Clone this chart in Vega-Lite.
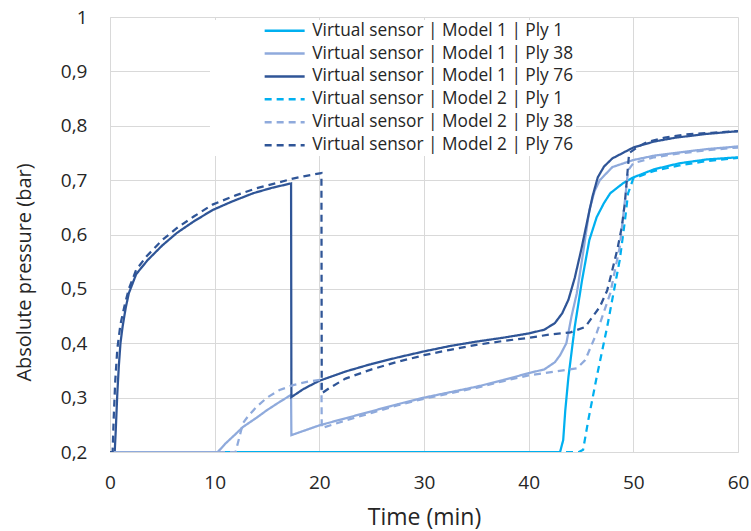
{
  "$schema": "https://vega.github.io/schema/vega-lite/v6.json",
  "width": 628,
  "height": 435,
  "autosize": {"type": "none"},
  "padding": {"left": 110, "top": 17, "right": 13, "bottom": 79},
  "background": "white",
  "config": {
    "font": "Open Sans",
    "view": {"stroke": null},
    "axis": {
      "domainColor": "#d9d9d9",
      "gridColor": "#d9d9d9",
      "gridWidth": 1,
      "ticks": false,
      "tickSize": 0,
      "labelColor": "#262626",
      "titleColor": "#262626",
      "labelFontSize": 19,
      "titleFontWeight": "normal",
      "labelFlush": false,
      "labelOverlap": false
    },
    "legend": {
      "title": null,
      "orient": "none",
      "legendX": 100,
      "legendY": 3,
      "padding": 2,
      "fillColor": "white",
      "symbolType": "M-4,0H4",
      "symbolSize": 100,
      "symbolStrokeWidth": 2.5,
      "symbolOffset": 64,
      "labelOffset": 19,
      "labelFontSize": 17.3,
      "labelColor": "#262626",
      "labelLimit": 400,
      "rowPadding": 4.9
    }
  },
  "data": {
    "values": [
      {"series": "Virtual sensor | Model 1 | Ply 1", "t": 0, "p": 0.2},
      {"series": "Virtual sensor | Model 1 | Ply 1", "t": 43.0, "p": 0.2},
      {"series": "Virtual sensor | Model 1 | Ply 1", "t": 43.3, "p": 0.222},
      {"series": "Virtual sensor | Model 1 | Ply 1", "t": 43.5, "p": 0.277},
      {"series": "Virtual sensor | Model 1 | Ply 1", "t": 43.8, "p": 0.338},
      {"series": "Virtual sensor | Model 1 | Ply 1", "t": 44.4, "p": 0.43},
      {"series": "Virtual sensor | Model 1 | Ply 1", "t": 45.1, "p": 0.516},
      {"series": "Virtual sensor | Model 1 | Ply 1", "t": 45.8, "p": 0.59},
      {"series": "Virtual sensor | Model 1 | Ply 1", "t": 46.5, "p": 0.632},
      {"series": "Virtual sensor | Model 1 | Ply 1", "t": 47.2, "p": 0.658},
      {"series": "Virtual sensor | Model 1 | Ply 1", "t": 47.8, "p": 0.676},
      {"series": "Virtual sensor | Model 1 | Ply 1", "t": 49.0, "p": 0.694},
      {"series": "Virtual sensor | Model 1 | Ply 1", "t": 50.0, "p": 0.705},
      {"series": "Virtual sensor | Model 1 | Ply 1", "t": 52.0, "p": 0.72},
      {"series": "Virtual sensor | Model 1 | Ply 1", "t": 54.4, "p": 0.731},
      {"series": "Virtual sensor | Model 1 | Ply 1", "t": 57.0, "p": 0.738},
      {"series": "Virtual sensor | Model 1 | Ply 1", "t": 60.0, "p": 0.742},

      {"series": "Virtual sensor | Model 1 | Ply 38", "t": 0, "p": 0.2},
      {"series": "Virtual sensor | Model 1 | Ply 38", "t": 10.3, "p": 0.2},
      {"series": "Virtual sensor | Model 1 | Ply 38", "t": 11.0, "p": 0.215},
      {"series": "Virtual sensor | Model 1 | Ply 38", "t": 12.0, "p": 0.233},
      {"series": "Virtual sensor | Model 1 | Ply 38", "t": 12.7, "p": 0.246},
      {"series": "Virtual sensor | Model 1 | Ply 38", "t": 14.0, "p": 0.263},
      {"series": "Virtual sensor | Model 1 | Ply 38", "t": 15.0, "p": 0.277},
      {"series": "Virtual sensor | Model 1 | Ply 38", "t": 16.2, "p": 0.292},
      {"series": "Virtual sensor | Model 1 | Ply 38", "t": 17.3, "p": 0.305},
      {"series": "Virtual sensor | Model 1 | Ply 38", "t": 17.33, "p": 0.231},
      {"series": "Virtual sensor | Model 1 | Ply 38", "t": 20.0, "p": 0.249},
      {"series": "Virtual sensor | Model 1 | Ply 38", "t": 22.5, "p": 0.262},
      {"series": "Virtual sensor | Model 1 | Ply 38", "t": 25.0, "p": 0.275},
      {"series": "Virtual sensor | Model 1 | Ply 38", "t": 27.5, "p": 0.288},
      {"series": "Virtual sensor | Model 1 | Ply 38", "t": 30.0, "p": 0.3},
      {"series": "Virtual sensor | Model 1 | Ply 38", "t": 32.5, "p": 0.31},
      {"series": "Virtual sensor | Model 1 | Ply 38", "t": 35.0, "p": 0.32},
      {"series": "Virtual sensor | Model 1 | Ply 38", "t": 37.5, "p": 0.332},
      {"series": "Virtual sensor | Model 1 | Ply 38", "t": 40.0, "p": 0.345},
      {"series": "Virtual sensor | Model 1 | Ply 38", "t": 41.5, "p": 0.352},
      {"series": "Virtual sensor | Model 1 | Ply 38", "t": 42.5, "p": 0.365},
      {"series": "Virtual sensor | Model 1 | Ply 38", "t": 43.0, "p": 0.378},
      {"series": "Virtual sensor | Model 1 | Ply 38", "t": 43.6, "p": 0.4},
      {"series": "Virtual sensor | Model 1 | Ply 38", "t": 44.1, "p": 0.45},
      {"series": "Virtual sensor | Model 1 | Ply 38", "t": 44.6, "p": 0.492},
      {"series": "Virtual sensor | Model 1 | Ply 38", "t": 45.2, "p": 0.566},
      {"series": "Virtual sensor | Model 1 | Ply 38", "t": 45.8, "p": 0.645},
      {"series": "Virtual sensor | Model 1 | Ply 38", "t": 46.3, "p": 0.68},
      {"series": "Virtual sensor | Model 1 | Ply 38", "t": 46.8, "p": 0.7},
      {"series": "Virtual sensor | Model 1 | Ply 38", "t": 48.0, "p": 0.724},
      {"series": "Virtual sensor | Model 1 | Ply 38", "t": 50.0, "p": 0.737},
      {"series": "Virtual sensor | Model 1 | Ply 38", "t": 52.0, "p": 0.745},
      {"series": "Virtual sensor | Model 1 | Ply 38", "t": 54.4, "p": 0.751},
      {"series": "Virtual sensor | Model 1 | Ply 38", "t": 57.0, "p": 0.757},
      {"series": "Virtual sensor | Model 1 | Ply 38", "t": 60.0, "p": 0.762},

      {"series": "Virtual sensor | Model 1 | Ply 76", "t": 0, "p": 0.2},
      {"series": "Virtual sensor | Model 1 | Ply 76", "t": 0.45, "p": 0.2},
      {"series": "Virtual sensor | Model 1 | Ply 76", "t": 0.55, "p": 0.24},
      {"series": "Virtual sensor | Model 1 | Ply 76", "t": 0.7, "p": 0.308},
      {"series": "Virtual sensor | Model 1 | Ply 76", "t": 0.85, "p": 0.36},
      {"series": "Virtual sensor | Model 1 | Ply 76", "t": 1.0, "p": 0.4},
      {"series": "Virtual sensor | Model 1 | Ply 76", "t": 1.2, "p": 0.43},
      {"series": "Virtual sensor | Model 1 | Ply 76", "t": 1.5, "p": 0.465},
      {"series": "Virtual sensor | Model 1 | Ply 76", "t": 1.8, "p": 0.492},
      {"series": "Virtual sensor | Model 1 | Ply 76", "t": 2.5, "p": 0.527},
      {"series": "Virtual sensor | Model 1 | Ply 76", "t": 3.6, "p": 0.553},
      {"series": "Virtual sensor | Model 1 | Ply 76", "t": 5.0, "p": 0.58},
      {"series": "Virtual sensor | Model 1 | Ply 76", "t": 6.4, "p": 0.603},
      {"series": "Virtual sensor | Model 1 | Ply 76", "t": 8.0, "p": 0.624},
      {"series": "Virtual sensor | Model 1 | Ply 76", "t": 9.8, "p": 0.645},
      {"series": "Virtual sensor | Model 1 | Ply 76", "t": 11.7, "p": 0.661},
      {"series": "Virtual sensor | Model 1 | Ply 76", "t": 13.7, "p": 0.676},
      {"series": "Virtual sensor | Model 1 | Ply 76", "t": 15.5, "p": 0.686},
      {"series": "Virtual sensor | Model 1 | Ply 76", "t": 17.3, "p": 0.694},
      {"series": "Virtual sensor | Model 1 | Ply 76", "t": 17.33, "p": 0.301},
      {"series": "Virtual sensor | Model 1 | Ply 76", "t": 18.5, "p": 0.316},
      {"series": "Virtual sensor | Model 1 | Ply 76", "t": 20.0, "p": 0.331},
      {"series": "Virtual sensor | Model 1 | Ply 76", "t": 22.5, "p": 0.348},
      {"series": "Virtual sensor | Model 1 | Ply 76", "t": 25.0, "p": 0.362},
      {"series": "Virtual sensor | Model 1 | Ply 76", "t": 27.5, "p": 0.374},
      {"series": "Virtual sensor | Model 1 | Ply 76", "t": 30.0, "p": 0.385},
      {"series": "Virtual sensor | Model 1 | Ply 76", "t": 32.5, "p": 0.395},
      {"series": "Virtual sensor | Model 1 | Ply 76", "t": 35.0, "p": 0.403},
      {"series": "Virtual sensor | Model 1 | Ply 76", "t": 37.5, "p": 0.41},
      {"series": "Virtual sensor | Model 1 | Ply 76", "t": 40.0, "p": 0.418},
      {"series": "Virtual sensor | Model 1 | Ply 76", "t": 41.5, "p": 0.425},
      {"series": "Virtual sensor | Model 1 | Ply 76", "t": 42.5, "p": 0.437},
      {"series": "Virtual sensor | Model 1 | Ply 76", "t": 43.2, "p": 0.455},
      {"series": "Virtual sensor | Model 1 | Ply 76", "t": 43.8, "p": 0.48},
      {"series": "Virtual sensor | Model 1 | Ply 76", "t": 44.4, "p": 0.52},
      {"series": "Virtual sensor | Model 1 | Ply 76", "t": 45.0, "p": 0.57},
      {"series": "Virtual sensor | Model 1 | Ply 76", "t": 45.6, "p": 0.625},
      {"series": "Virtual sensor | Model 1 | Ply 76", "t": 46.1, "p": 0.67},
      {"series": "Virtual sensor | Model 1 | Ply 76", "t": 46.6, "p": 0.705},
      {"series": "Virtual sensor | Model 1 | Ply 76", "t": 47.2, "p": 0.725},
      {"series": "Virtual sensor | Model 1 | Ply 76", "t": 48.0, "p": 0.74},
      {"series": "Virtual sensor | Model 1 | Ply 76", "t": 49.0, "p": 0.75},
      {"series": "Virtual sensor | Model 1 | Ply 76", "t": 50.0, "p": 0.76},
      {"series": "Virtual sensor | Model 1 | Ply 76", "t": 52.0, "p": 0.771},
      {"series": "Virtual sensor | Model 1 | Ply 76", "t": 54.0, "p": 0.778},
      {"series": "Virtual sensor | Model 1 | Ply 76", "t": 57.0, "p": 0.785},
      {"series": "Virtual sensor | Model 1 | Ply 76", "t": 60.0, "p": 0.79},

      {"series": "Virtual sensor | Model 2 | Ply 1", "t": 0, "p": 0.2},
      {"series": "Virtual sensor | Model 2 | Ply 1", "t": 44.8, "p": 0.2},
      {"series": "Virtual sensor | Model 2 | Ply 1", "t": 45.2, "p": 0.204},
      {"series": "Virtual sensor | Model 2 | Ply 1", "t": 45.7, "p": 0.259},
      {"series": "Virtual sensor | Model 2 | Ply 1", "t": 46.5, "p": 0.338},
      {"series": "Virtual sensor | Model 2 | Ply 1", "t": 47.5, "p": 0.43},
      {"series": "Virtual sensor | Model 2 | Ply 1", "t": 48.1, "p": 0.492},
      {"series": "Virtual sensor | Model 2 | Ply 1", "t": 48.7, "p": 0.553},
      {"series": "Virtual sensor | Model 2 | Ply 1", "t": 49.2, "p": 0.626},
      {"series": "Virtual sensor | Model 2 | Ply 1", "t": 49.5, "p": 0.676},
      {"series": "Virtual sensor | Model 2 | Ply 1", "t": 50.0, "p": 0.703},
      {"series": "Virtual sensor | Model 2 | Ply 1", "t": 52.0, "p": 0.717},
      {"series": "Virtual sensor | Model 2 | Ply 1", "t": 54.4, "p": 0.727},
      {"series": "Virtual sensor | Model 2 | Ply 1", "t": 57.0, "p": 0.735},
      {"series": "Virtual sensor | Model 2 | Ply 1", "t": 60.0, "p": 0.741},

      {"series": "Virtual sensor | Model 2 | Ply 38", "t": 0, "p": 0.2},
      {"series": "Virtual sensor | Model 2 | Ply 38", "t": 12.0, "p": 0.2},
      {"series": "Virtual sensor | Model 2 | Ply 38", "t": 12.2, "p": 0.215},
      {"series": "Virtual sensor | Model 2 | Ply 38", "t": 12.7, "p": 0.253},
      {"series": "Virtual sensor | Model 2 | Ply 38", "t": 13.2, "p": 0.266},
      {"series": "Virtual sensor | Model 2 | Ply 38", "t": 14.0, "p": 0.283},
      {"series": "Virtual sensor | Model 2 | Ply 38", "t": 15.0, "p": 0.3},
      {"series": "Virtual sensor | Model 2 | Ply 38", "t": 16.2, "p": 0.314},
      {"series": "Virtual sensor | Model 2 | Ply 38", "t": 17.5, "p": 0.323},
      {"series": "Virtual sensor | Model 2 | Ply 38", "t": 18.8, "p": 0.329},
      {"series": "Virtual sensor | Model 2 | Ply 38", "t": 20.2, "p": 0.333},
      {"series": "Virtual sensor | Model 2 | Ply 38", "t": 20.23, "p": 0.244},
      {"series": "Virtual sensor | Model 2 | Ply 38", "t": 22.5, "p": 0.258},
      {"series": "Virtual sensor | Model 2 | Ply 38", "t": 25.0, "p": 0.272},
      {"series": "Virtual sensor | Model 2 | Ply 38", "t": 27.5, "p": 0.286},
      {"series": "Virtual sensor | Model 2 | Ply 38", "t": 30.0, "p": 0.298},
      {"series": "Virtual sensor | Model 2 | Ply 38", "t": 32.5, "p": 0.308},
      {"series": "Virtual sensor | Model 2 | Ply 38", "t": 35.0, "p": 0.318},
      {"series": "Virtual sensor | Model 2 | Ply 38", "t": 37.5, "p": 0.33},
      {"series": "Virtual sensor | Model 2 | Ply 38", "t": 40.0, "p": 0.341},
      {"series": "Virtual sensor | Model 2 | Ply 38", "t": 42.5, "p": 0.348},
      {"series": "Virtual sensor | Model 2 | Ply 38", "t": 44.6, "p": 0.354},
      {"series": "Virtual sensor | Model 2 | Ply 38", "t": 45.4, "p": 0.369},
      {"series": "Virtual sensor | Model 2 | Ply 38", "t": 46.5, "p": 0.419},
      {"series": "Virtual sensor | Model 2 | Ply 38", "t": 47.8, "p": 0.492},
      {"series": "Virtual sensor | Model 2 | Ply 38", "t": 48.7, "p": 0.577},
      {"series": "Virtual sensor | Model 2 | Ply 38", "t": 49.2, "p": 0.663},
      {"series": "Virtual sensor | Model 2 | Ply 38", "t": 49.5, "p": 0.718},
      {"series": "Virtual sensor | Model 2 | Ply 38", "t": 50.0, "p": 0.731},
      {"series": "Virtual sensor | Model 2 | Ply 38", "t": 52.0, "p": 0.742},
      {"series": "Virtual sensor | Model 2 | Ply 38", "t": 54.4, "p": 0.749},
      {"series": "Virtual sensor | Model 2 | Ply 38", "t": 57.0, "p": 0.755},
      {"series": "Virtual sensor | Model 2 | Ply 38", "t": 60.0, "p": 0.76},

      {"series": "Virtual sensor | Model 2 | Ply 76", "t": 0, "p": 0.2},
      {"series": "Virtual sensor | Model 2 | Ply 76", "t": 0.25, "p": 0.2},
      {"series": "Virtual sensor | Model 2 | Ply 76", "t": 0.35, "p": 0.26},
      {"series": "Virtual sensor | Model 2 | Ply 76", "t": 0.5, "p": 0.33},
      {"series": "Virtual sensor | Model 2 | Ply 76", "t": 0.7, "p": 0.39},
      {"series": "Virtual sensor | Model 2 | Ply 76", "t": 1.0, "p": 0.435},
      {"series": "Virtual sensor | Model 2 | Ply 76", "t": 1.4, "p": 0.47},
      {"series": "Virtual sensor | Model 2 | Ply 76", "t": 1.8, "p": 0.5},
      {"series": "Virtual sensor | Model 2 | Ply 76", "t": 2.5, "p": 0.535},
      {"series": "Virtual sensor | Model 2 | Ply 76", "t": 3.5, "p": 0.56},
      {"series": "Virtual sensor | Model 2 | Ply 76", "t": 5.0, "p": 0.59},
      {"series": "Virtual sensor | Model 2 | Ply 76", "t": 6.4, "p": 0.612},
      {"series": "Virtual sensor | Model 2 | Ply 76", "t": 8.0, "p": 0.633},
      {"series": "Virtual sensor | Model 2 | Ply 76", "t": 9.8, "p": 0.655},
      {"series": "Virtual sensor | Model 2 | Ply 76", "t": 12.0, "p": 0.672},
      {"series": "Virtual sensor | Model 2 | Ply 76", "t": 14.0, "p": 0.685},
      {"series": "Virtual sensor | Model 2 | Ply 76", "t": 16.0, "p": 0.695},
      {"series": "Virtual sensor | Model 2 | Ply 76", "t": 17.3, "p": 0.702},
      {"series": "Virtual sensor | Model 2 | Ply 76", "t": 18.5, "p": 0.707},
      {"series": "Virtual sensor | Model 2 | Ply 76", "t": 20.2, "p": 0.713},
      {"series": "Virtual sensor | Model 2 | Ply 76", "t": 20.23, "p": 0.308},
      {"series": "Virtual sensor | Model 2 | Ply 76", "t": 21.0, "p": 0.318},
      {"series": "Virtual sensor | Model 2 | Ply 76", "t": 22.5, "p": 0.335},
      {"series": "Virtual sensor | Model 2 | Ply 76", "t": 25.0, "p": 0.352},
      {"series": "Virtual sensor | Model 2 | Ply 76", "t": 27.5, "p": 0.366},
      {"series": "Virtual sensor | Model 2 | Ply 76", "t": 30.0, "p": 0.378},
      {"series": "Virtual sensor | Model 2 | Ply 76", "t": 32.5, "p": 0.388},
      {"series": "Virtual sensor | Model 2 | Ply 76", "t": 35.0, "p": 0.397},
      {"series": "Virtual sensor | Model 2 | Ply 76", "t": 37.5, "p": 0.404},
      {"series": "Virtual sensor | Model 2 | Ply 76", "t": 40.0, "p": 0.41},
      {"series": "Virtual sensor | Model 2 | Ply 76", "t": 42.0, "p": 0.416},
      {"series": "Virtual sensor | Model 2 | Ply 76", "t": 44.0, "p": 0.42},
      {"series": "Virtual sensor | Model 2 | Ply 76", "t": 45.4, "p": 0.43},
      {"series": "Virtual sensor | Model 2 | Ply 76", "t": 46.8, "p": 0.467},
      {"series": "Virtual sensor | Model 2 | Ply 76", "t": 47.5, "p": 0.497},
      {"series": "Virtual sensor | Model 2 | Ply 76", "t": 48.0, "p": 0.535},
      {"series": "Virtual sensor | Model 2 | Ply 76", "t": 48.5, "p": 0.575},
      {"series": "Virtual sensor | Model 2 | Ply 76", "t": 48.9, "p": 0.614},
      {"series": "Virtual sensor | Model 2 | Ply 76", "t": 49.2, "p": 0.66},
      {"series": "Virtual sensor | Model 2 | Ply 76", "t": 49.4, "p": 0.705},
      {"series": "Virtual sensor | Model 2 | Ply 76", "t": 49.6, "p": 0.75},
      {"series": "Virtual sensor | Model 2 | Ply 76", "t": 50.5, "p": 0.762},
      {"series": "Virtual sensor | Model 2 | Ply 76", "t": 51.3, "p": 0.77},
      {"series": "Virtual sensor | Model 2 | Ply 76", "t": 53.0, "p": 0.778},
      {"series": "Virtual sensor | Model 2 | Ply 76", "t": 55.0, "p": 0.784},
      {"series": "Virtual sensor | Model 2 | Ply 76", "t": 57.5, "p": 0.787},
      {"series": "Virtual sensor | Model 2 | Ply 76", "t": 60.0, "p": 0.79}
    ]
  },
  "mark": {"type": "line", "strokeWidth": 2.25, "strokeCap": "butt", "clip": true},
  "encoding": {
    "x": {
      "field": "t",
      "type": "quantitative",
      "scale": {"domain": [0, 60], "nice": false, "zero": false},
      "axis": {
        "title": "Time (min)",
        "values": [0, 10, 20, 30, 40, 50, 60],
        "labelPadding": 21,
        "titlePadding": 14,
        "titleFontSize": 23,
        "grid": true
      }
    },
    "y": {
      "field": "p",
      "type": "quantitative",
      "scale": {"domain": [0.2, 1], "nice": false, "zero": false},
      "axis": {
        "title": "Absolute pressure (bar)",
        "values": [0.2, 0.3, 0.4, 0.5, 0.6, 0.7, 0.8, 0.9, 1],
        "labelExpr": "replace(format(datum.value, '.1~f'), '.', ',')",
        "labelPadding": 23,
        "titlePadding": 26,
        "titleFontSize": 20,
        "titleY": 255,
        "grid": true
      }
    },
    "color": {
      "field": "series",
      "type": "nominal",
      "scale": {
        "domain": [
          "Virtual sensor | Model 1 | Ply 1",
          "Virtual sensor | Model 1 | Ply 38",
          "Virtual sensor | Model 1 | Ply 76",
          "Virtual sensor | Model 2 | Ply 1",
          "Virtual sensor | Model 2 | Ply 38",
          "Virtual sensor | Model 2 | Ply 76"
        ],
        "range": ["#00B0F0", "#8FAADC", "#2F5597", "#00B0F0", "#8FAADC", "#2F5597"]
      },
      "legend": {}
    },
    "strokeDash": {
      "field": "series",
      "type": "nominal",
      "scale": {
        "domain": [
          "Virtual sensor | Model 1 | Ply 1",
          "Virtual sensor | Model 1 | Ply 38",
          "Virtual sensor | Model 1 | Ply 76",
          "Virtual sensor | Model 2 | Ply 1",
          "Virtual sensor | Model 2 | Ply 38",
          "Virtual sensor | Model 2 | Ply 76"
        ],
        "range": [[1, 0], [1, 0], [1, 0], [7, 5], [7, 5], [7, 5]]
      },
      "legend": {}
    }
  }
}
